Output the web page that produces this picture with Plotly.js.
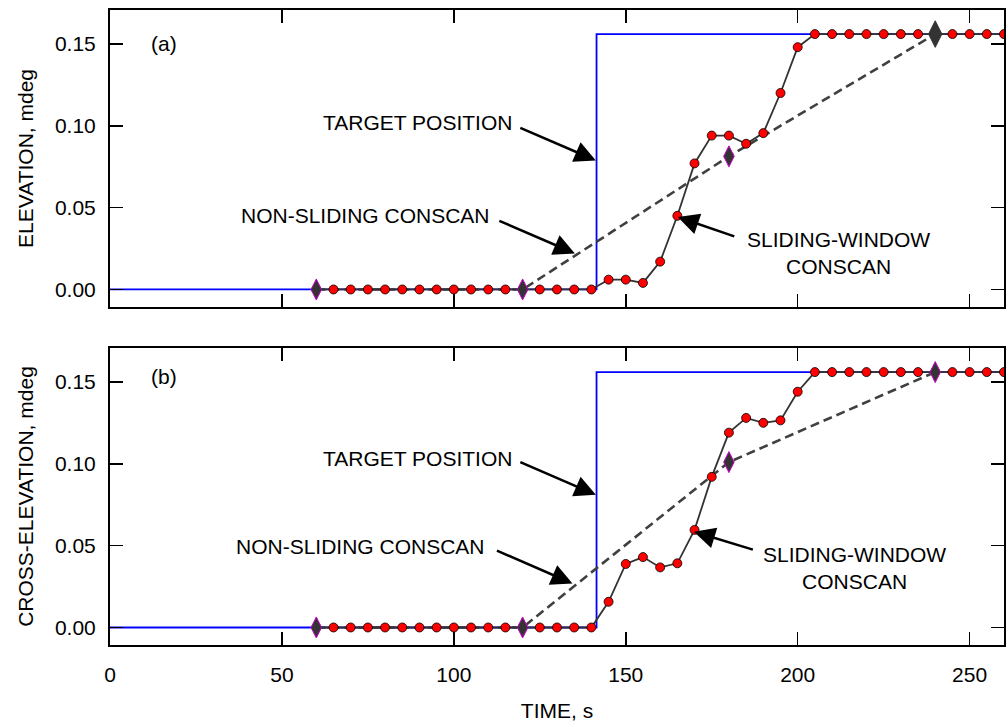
<!DOCTYPE html>
<html>
<head>
<meta charset="utf-8">
<script src="https://cdn.plot.ly/plotly-3.0.1.min.js"></script>
<style>html,body{margin:0;padding:0;background:#fff;}#chart{width:1008px;height:727px;}</style>
</head>
<body>
<div id="chart"></div>
<script>
// ---- Data ----
const sampleTimes = [60,65,70,75,80,85,90,95,100,105,110,115,120,125,130,135,140,145,150,155,160,165,170,175,180,185,190,195,200,205,210,215,220,225,230,235,240,245,250,255,260];
const elevSliding = [0,0,0,0,0,0,0,0,0,0,0,0,0,0,0,0,0,0.006,0.006,0.004,0.017,0.045,0.077,0.094,0.094,0.089,0.0955,0.120,0.148,0.156,0.156,0.156,0.156,0.156,0.156,0.156,0.156,0.156,0.156,0.156,0.156];
const crossSliding = [0,0,0,0,0,0,0,0,0,0,0,0,0,0,0,0,0,0.0157,0.0388,0.043,0.0367,0.0392,0.0596,0.092,0.119,0.128,0.125,0.1265,0.144,0.156,0.156,0.156,0.156,0.156,0.156,0.156,0.156,0.156,0.156,0.156,0.156];
const blockTimes = [60,120,180,240];
const elevNonSliding = [0,0,0.0813,0.156];
const crossNonSliding = [0,0,0.101,0.156];
const targetTimes = [0,141.5,141.5,260];
const targetElev = [0,0,0.156,0.156];
const targetCross = [0,0,0.156,0.156];
const xTicks = [0,50,100,150,200,250];
const yTicks = [0,0.05,0.10,0.15];

const FONT = 'Liberation Sans, Arial, Helvetica, sans-serif';
const FS = 21;

function panelTraces(xa, ya, target, nonSliding, sliding, bigLast) {
  return [
    {x: targetTimes, y: target, xaxis: xa, yaxis: ya, mode: 'lines',
     line: {color: '#0000ff', width: 1.8}, hoverinfo: 'skip'},
    {x: blockTimes, y: nonSliding, xaxis: xa, yaxis: ya, mode: 'lines',
     line: {color: '#404040', width: 2.6, dash: '9px,5px'}, hoverinfo: 'skip'},
    {x: sampleTimes, y: sliding, xaxis: xa, yaxis: ya, mode: 'lines+markers',
     line: {color: '#333333', width: 1.8},
     marker: {symbol: 'circle', size: 9, color: '#ff0000', line: {color: '#000000', width: 0.8}}},
    {x: blockTimes, y: nonSliding, xaxis: xa, yaxis: ya, mode: 'markers',
     marker: {symbol: 'diamond-tall', size: bigLast ? [15,15,15,19] : 15, color: '#333333', opacity: 1,
              line: {color: bigLast ? ['#cc00cc','#cc00cc','#cc00cc','#333333'] : '#cc00cc', width: 1}}}
  ];
}

const data = [].concat(
  panelTraces('x', 'y', targetElev, elevNonSliding, elevSliding, true),
  panelTraces('x2', 'y2', targetCross, crossNonSliding, crossSliding, false)
);

const axisCommon = {
  showline: true, linecolor: '#000', linewidth: 2, mirror: 'ticks',
  ticks: 'inside', ticklen: 13, tickwidth: 1.5, tickcolor: '#000',
  showgrid: false, zeroline: false,
  tickfont: {family: FONT, size: FS, color: '#000'}
};

const xRange = [0, 260];
const yRange = [-0.0107, 0.1707];

const layout = {
  width: 1008, height: 727,
  margin: {l: 110, r: 4, t: 10, b: 82},
  paper_bgcolor: '#fff', plot_bgcolor: '#fff',
  showlegend: false,
  font: {family: FONT, size: FS, color: '#000'},
  xaxis: Object.assign({}, axisCommon, {domain: [0,1], anchor: 'y', range: xRange,
    tickvals: xTicks, showticklabels: false}),
  yaxis: Object.assign({}, axisCommon, {domain: [0.5323,1], anchor: 'x', range: yRange,
    tickvals: yTicks, tickformat: '.2f', ticklabelstandoff: 8,
    title: {text: 'ELEVATION, mdeg', font: {family: FONT, size: FS, color: '#000'}, standoff: 16}}),
  xaxis2: Object.assign({}, axisCommon, {domain: [0,1], anchor: 'y2', range: xRange,
    tickvals: xTicks, ticklabelstandoff: 10,
    title: {text: 'TIME, s', font: {family: FONT, size: FS, color: '#000'}, standoff: 18}}),
  yaxis2: Object.assign({}, axisCommon, {domain: [0,0.4677], anchor: 'x2', range: yRange,
    tickvals: yTicks, tickformat: '.2f', ticklabelstandoff: 8,
    title: {text: 'CROSS-ELEVATION, mdeg', font: {family: FONT, size: FS, color: '#000'}, standoff: 16}}),
  annotations: []
};

function label(xa, ya, x, y, text) {
  return {xref: xa, yref: ya, x: x, y: y, text: text, showarrow: false,
          font: {family: FONT, size: FS, color: '#000'}, align: 'center',
          xanchor: 'center', yanchor: 'middle'};
}
function arrow(xa, ya, tx, ty, hx, hy) {
  return {xref: xa, yref: ya, axref: xa, ayref: ya, x: hx, y: hy, ax: tx, ay: ty,
          text: '', showarrow: true, arrowhead: 2, arrowsize: 1.7, arrowwidth: 2.5,
          arrowcolor: '#000', standoff: 0, startstandoff: 0};
}

layout.annotations.push(
  label('x', 'y', 15.6, 0.150, '(a)'),
  label('x', 'y', 89.3, 0.102, 'TARGET POSITION'),
  arrow('x', 'y', 118.9, 0.0991, 141.3, 0.0788),
  label('x', 'y', 74.4, 0.0453, 'NON-SLIDING CONSCAN'),
  arrow('x', 'y', 112.8, 0.0423, 135.2, 0.0220),
  label('x', 'y', 212, 0.0224, 'SLIDING-WINDOW<br>CONSCAN'),
  arrow('x', 'y', 182.0, 0.0321, 165.1, 0.0443),

  label('x2', 'y2', 15.6, 0.1535, '(b)'),
  label('x2', 'y2', 89.3, 0.1035, 'TARGET POSITION'),
  arrow('x2', 'y2', 118.9, 0.1014, 141.3, 0.081),
  label('x2', 'y2', 72.8, 0.0492, 'NON-SLIDING CONSCAN'),
  arrow('x2', 'y2', 112.1, 0.0473, 134.5, 0.0269),
  label('x2', 'y2', 216.5, 0.0363, 'SLIDING-WINDOW<br>CONSCAN'),
  arrow('x2', 'y2', 187.4, 0.0473, 169.8, 0.0585)
);

Plotly.newPlot('chart', data, layout, {staticPlot: true, displayModeBar: false});
</script>
</body>
</html>
